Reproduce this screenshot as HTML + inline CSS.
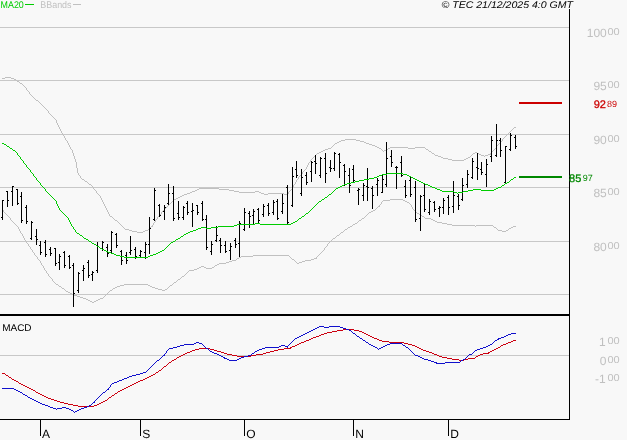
<!DOCTYPE html>
<html><head><meta charset="utf-8"><title>chart</title>
<style>
html,body{margin:0;padding:0;background:#f8f8f8;}
body{width:627px;height:440px;position:relative;overflow:hidden;font-family:"Liberation Sans",sans-serif;}
svg text{font-family:"Liberation Sans",sans-serif;}
.t{position:absolute;white-space:nowrap;line-height:1;transform-origin:0 0;}
.yl{position:absolute;white-space:nowrap;line-height:1;}
.yl span{vertical-align:top;display:inline-block;position:relative;}
</style></head><body>
<svg width="627" height="440" viewBox="0 0 627 440" style="position:absolute;left:0;top:0;will-change:transform" shape-rendering="crispEdges" text-rendering="geometricPrecision">
<rect x="0" y="27" width="569" height="1" fill="#c8c8c8"/>
<rect x="0" y="80" width="569" height="1" fill="#c8c8c8"/>
<rect x="0" y="134" width="569" height="1" fill="#c8c8c8"/>
<rect x="0" y="187" width="569" height="1" fill="#c8c8c8"/>
<rect x="0" y="241" width="569" height="1" fill="#c8c8c8"/>
<rect x="0" y="294" width="569" height="1" fill="#c8c8c8"/>
<rect x="0" y="355" width="569" height="1" fill="#c8c8c8"/>
<path d="M5 77h6v1h-6zM2 78h3v1h-3zM11 78h3v1h-3zM14 79h2v1h-2zM16 80h1v1h-1zM17 81h2v1h-2zM19 82h1v1h-1zM20 83h2v1h-2zM22 84h1v1h-1zM23 85h1v1h-1zM24 86h1v1h-1zM25 87h1v1h-1zM26 88h1v1h-1zM26 89h1v1h-1zM27 90h1v1h-1zM28 91h1v1h-1zM29 92h1v1h-1zM29 93h1v1h-1zM30 94h1v1h-1zM31 95h1v1h-1zM32 96h1v1h-1zM33 97h1v1h-1zM34 98h1v1h-1zM35 99h1v1h-1zM36 100h2v1h-2zM38 101h1v1h-1zM39 102h1v1h-1zM40 103h1v1h-1zM41 104h1v1h-1zM42 105h1v1h-1zM43 106h1v1h-1zM44 107h1v1h-1zM45 108h1v1h-1zM46 109h1v1h-1zM47 110h1v1h-1zM48 111h1v1h-1zM48 112h1v1h-1zM49 113h1v1h-1zM50 114h1v1h-1zM51 115h1v1h-1zM52 116h1v1h-1zM53 117h1v1h-1zM54 118h1v1h-1zM55 119h1v1h-1zM56 120h1v1h-1zM56 121h1v1h-1zM56 122h1v1h-1zM57 123h1v1h-1zM57 124h1v1h-1zM58 125h1v1h-1zM58 126h1v1h-1zM59 127h1v1h-1zM514 127h2v1h-2zM59 128h1v1h-1zM513 128h1v1h-1zM60 129h1v1h-1zM512 129h1v1h-1zM60 130h1v1h-1zM511 130h1v1h-1zM61 131h1v1h-1zM510 131h1v1h-1zM61 132h1v1h-1zM509 132h1v1h-1zM62 133h1v1h-1zM508 133h1v1h-1zM62 134h1v1h-1zM507 134h1v1h-1zM63 135h1v1h-1zM506 135h1v1h-1zM64 136h1v1h-1zM505 136h1v1h-1zM64 137h1v1h-1zM504 137h1v1h-1zM65 138h1v1h-1zM503 138h1v1h-1zM65 139h1v1h-1zM345 139h11v1h-11zM502 139h1v1h-1zM66 140h1v1h-1zM341 140h4v1h-4zM356 140h4v1h-4zM502 140h1v1h-1zM67 141h1v1h-1zM339 141h2v1h-2zM360 141h4v1h-4zM501 141h1v1h-1zM67 142h1v1h-1zM337 142h2v1h-2zM364 142h2v1h-2zM500 142h1v1h-1zM68 143h1v1h-1zM335 143h2v1h-2zM366 143h3v1h-3zM499 143h1v1h-1zM68 144h1v1h-1zM334 144h1v1h-1zM369 144h3v1h-3zM498 144h1v1h-1zM69 145h1v1h-1zM333 145h1v1h-1zM372 145h3v1h-3zM497 145h1v1h-1zM69 146h1v1h-1zM332 146h1v1h-1zM375 146h2v1h-2zM496 146h1v1h-1zM70 147h1v1h-1zM331 147h1v1h-1zM377 147h2v1h-2zM390 147h18v1h-18zM415 147h10v1h-10zM496 147h1v1h-1zM70 148h1v1h-1zM328 148h3v1h-3zM379 148h2v1h-2zM388 148h2v1h-2zM408 148h7v1h-7zM425 148h1v1h-1zM495 148h1v1h-1zM71 149h1v1h-1zM325 149h3v1h-3zM381 149h1v1h-1zM386 149h2v1h-2zM426 149h2v1h-2zM494 149h1v1h-1zM72 150h1v1h-1zM323 150h2v1h-2zM382 150h1v1h-1zM384 150h2v1h-2zM428 150h1v1h-1zM493 150h1v1h-1zM72 151h1v1h-1zM321 151h2v1h-2zM383 151h1v1h-1zM429 151h2v1h-2zM492 151h1v1h-1zM72 152h1v1h-1zM319 152h2v1h-2zM431 152h1v1h-1zM475 152h2v1h-2zM491 152h1v1h-1zM73 153h1v1h-1zM317 153h2v1h-2zM432 153h2v1h-2zM473 153h2v1h-2zM477 153h2v1h-2zM490 153h1v1h-1zM73 154h1v1h-1zM316 154h1v1h-1zM434 154h1v1h-1zM472 154h1v1h-1zM479 154h2v1h-2zM488 154h3v1h-3zM73 155h1v1h-1zM315 155h1v1h-1zM435 155h3v1h-3zM471 155h1v1h-1zM481 155h3v1h-3zM485 155h3v1h-3zM74 156h1v1h-1zM314 156h1v1h-1zM438 156h3v1h-3zM470 156h1v1h-1zM484 156h1v1h-1zM74 157h1v1h-1zM313 157h1v1h-1zM441 157h2v1h-2zM468 157h2v1h-2zM74 158h1v1h-1zM312 158h1v1h-1zM443 158h5v1h-5zM466 158h2v1h-2zM75 159h1v1h-1zM311 159h1v1h-1zM448 159h4v1h-4zM464 159h2v1h-2zM75 160h1v1h-1zM310 160h1v1h-1zM452 160h12v1h-12zM75 161h1v1h-1zM310 161h1v1h-1zM76 162h1v1h-1zM309 162h1v1h-1zM76 163h1v1h-1zM308 163h1v1h-1zM76 164h1v1h-1zM308 164h1v1h-1zM76 165h1v1h-1zM307 165h1v1h-1zM76 166h1v1h-1zM307 166h1v1h-1zM76 167h1v1h-1zM306 167h1v1h-1zM77 168h1v1h-1zM306 168h1v1h-1zM77 169h1v1h-1zM305 169h1v1h-1zM77 170h1v1h-1zM304 170h1v1h-1zM77 171h1v1h-1zM303 171h1v1h-1zM77 172h1v1h-1zM302 172h1v1h-1zM78 173h1v1h-1zM302 173h1v1h-1zM78 174h1v1h-1zM301 174h1v1h-1zM79 175h1v1h-1zM300 175h1v1h-1zM80 176h1v1h-1zM299 176h1v1h-1zM80 177h1v1h-1zM298 177h1v1h-1zM81 178h1v1h-1zM298 178h1v1h-1zM82 179h2v1h-2zM297 179h1v1h-1zM84 180h1v1h-1zM296 180h1v1h-1zM85 181h2v1h-2zM296 181h1v1h-1zM87 182h1v1h-1zM295 182h1v1h-1zM88 183h1v1h-1zM295 183h1v1h-1zM89 184h2v1h-2zM294 184h1v1h-1zM91 185h1v1h-1zM293 185h1v1h-1zM92 186h1v1h-1zM293 186h1v1h-1zM93 187h1v1h-1zM292 187h1v1h-1zM93 188h1v1h-1zM199 188h20v1h-20zM292 188h1v1h-1zM94 189h1v1h-1zM197 189h2v1h-2zM219 189h10v1h-10zM291 189h1v1h-1zM95 190h1v1h-1zM195 190h2v1h-2zM229 190h5v1h-5zM290 190h1v1h-1zM96 191h1v1h-1zM192 191h3v1h-3zM234 191h5v1h-5zM255 191h4v1h-4zM289 191h1v1h-1zM96 192h1v1h-1zM190 192h2v1h-2zM239 192h16v1h-16zM259 192h2v1h-2zM288 192h1v1h-1zM97 193h1v1h-1zM187 193h3v1h-3zM261 193h3v1h-3zM268 193h16v1h-16zM288 193h1v1h-1zM98 194h1v1h-1zM184 194h3v1h-3zM264 194h4v1h-4zM284 194h4v1h-4zM99 195h1v1h-1zM182 195h2v1h-2zM100 196h1v1h-1zM180 196h2v1h-2zM100 197h1v1h-1zM178 197h2v1h-2zM101 198h1v1h-1zM176 198h2v1h-2zM101 199h1v1h-1zM174 199h2v1h-2zM102 200h1v1h-1zM173 200h1v1h-1zM102 201h1v1h-1zM172 201h1v1h-1zM103 202h1v1h-1zM171 202h1v1h-1zM103 203h1v1h-1zM170 203h1v1h-1zM104 204h1v1h-1zM169 204h1v1h-1zM104 205h1v1h-1zM168 205h1v1h-1zM105 206h1v1h-1zM167 206h1v1h-1zM105 207h1v1h-1zM166 207h1v1h-1zM106 208h1v1h-1zM165 208h1v1h-1zM106 209h1v1h-1zM164 209h1v1h-1zM107 210h1v1h-1zM163 210h1v1h-1zM107 211h1v1h-1zM162 211h1v1h-1zM108 212h1v1h-1zM161 212h1v1h-1zM108 213h1v1h-1zM161 213h1v1h-1zM109 214h1v1h-1zM160 214h1v1h-1zM109 215h1v1h-1zM159 215h1v1h-1zM110 216h2v1h-2zM158 216h1v1h-1zM112 217h1v1h-1zM157 217h1v1h-1zM113 218h1v1h-1zM157 218h1v1h-1zM114 219h1v1h-1zM156 219h1v1h-1zM115 220h2v1h-2zM155 220h1v1h-1zM117 221h1v1h-1zM155 221h1v1h-1zM118 222h1v1h-1zM154 222h1v1h-1zM119 223h1v1h-1zM153 223h1v1h-1zM120 224h1v1h-1zM153 224h1v1h-1zM121 225h1v1h-1zM152 225h1v1h-1zM122 226h1v1h-1zM151 226h2v1h-2zM123 227h1v1h-1zM150 227h1v1h-1zM124 228h1v1h-1zM149 228h1v1h-1zM125 229h4v1h-4zM148 229h1v1h-1zM129 230h3v1h-3zM145 230h3v1h-3zM132 231h5v1h-5zM143 231h2v1h-2zM137 232h6v1h-6z" fill="#c0c0c0"/>
<path d="M390 199h13v1h-13zM383 200h7v1h-7zM403 200h2v1h-2zM382 201h1v1h-1zM405 201h2v1h-2zM381 202h1v1h-1zM407 202h2v1h-2zM381 203h1v1h-1zM409 203h1v1h-1zM380 204h1v1h-1zM410 204h1v1h-1zM379 205h1v1h-1zM411 205h1v1h-1zM378 206h2v1h-2zM411 206h1v1h-1zM377 207h1v1h-1zM412 207h1v1h-1zM376 208h1v1h-1zM412 208h1v1h-1zM375 209h1v1h-1zM413 209h1v1h-1zM3 210h1v1h-1zM373 210h2v1h-2zM414 210h1v1h-1zM3 211h1v1h-1zM371 211h2v1h-2zM415 211h1v1h-1zM4 212h1v1h-1zM369 212h2v1h-2zM416 212h1v1h-1zM5 213h1v1h-1zM368 213h1v1h-1zM417 213h2v1h-2zM6 214h1v1h-1zM367 214h1v1h-1zM419 214h2v1h-2zM7 215h1v1h-1zM366 215h1v1h-1zM421 215h1v1h-1zM8 216h1v1h-1zM365 216h1v1h-1zM422 216h2v1h-2zM9 217h1v1h-1zM364 217h1v1h-1zM424 217h1v1h-1zM10 218h1v1h-1zM362 218h2v1h-2zM425 218h6v1h-6zM10 219h1v1h-1zM361 219h1v1h-1zM431 219h2v1h-2zM11 220h1v1h-1zM359 220h2v1h-2zM433 220h2v1h-2zM12 221h1v1h-1zM358 221h1v1h-1zM435 221h2v1h-2zM13 222h1v1h-1zM357 222h1v1h-1zM437 222h5v1h-5zM14 223h1v1h-1zM355 223h2v1h-2zM442 223h5v1h-5zM15 224h1v1h-1zM353 224h2v1h-2zM447 224h5v1h-5zM16 225h1v1h-1zM352 225h1v1h-1zM452 225h23v1h-23zM476 225h17v1h-17zM17 226h1v1h-1zM350 226h2v1h-2zM475 226h1v1h-1zM493 226h1v1h-1zM513 226h3v1h-3zM18 227h1v1h-1zM348 227h2v1h-2zM494 227h2v1h-2zM511 227h2v1h-2zM18 228h1v1h-1zM347 228h1v1h-1zM496 228h1v1h-1zM509 228h2v1h-2zM19 229h1v1h-1zM345 229h2v1h-2zM497 229h1v1h-1zM508 229h1v1h-1zM19 230h1v1h-1zM344 230h1v1h-1zM498 230h4v1h-4zM506 230h2v1h-2zM20 231h1v1h-1zM343 231h1v1h-1zM502 231h4v1h-4zM20 232h1v1h-1zM341 232h2v1h-2zM21 233h1v1h-1zM340 233h1v1h-1zM22 234h1v1h-1zM339 234h1v1h-1zM22 235h1v1h-1zM337 235h2v1h-2zM23 236h1v1h-1zM336 236h1v1h-1zM23 237h1v1h-1zM335 237h1v1h-1zM24 238h1v1h-1zM333 238h2v1h-2zM24 239h1v1h-1zM332 239h1v1h-1zM25 240h1v1h-1zM331 240h1v1h-1zM26 241h1v1h-1zM330 241h1v1h-1zM26 242h1v1h-1zM329 242h1v1h-1zM27 243h1v1h-1zM328 243h1v1h-1zM28 244h1v1h-1zM327 244h1v1h-1zM28 245h1v1h-1zM327 245h1v1h-1zM29 246h1v1h-1zM326 246h1v1h-1zM30 247h1v1h-1zM325 247h1v1h-1zM30 248h1v1h-1zM324 248h1v1h-1zM31 249h1v1h-1zM324 249h1v1h-1zM32 250h1v1h-1zM323 250h1v1h-1zM32 251h1v1h-1zM322 251h1v1h-1zM33 252h1v1h-1zM321 252h1v1h-1zM34 253h1v1h-1zM320 253h1v1h-1zM34 254h1v1h-1zM319 254h1v1h-1zM35 255h1v1h-1zM253 255h36v1h-36zM318 255h1v1h-1zM36 256h1v1h-1zM241 256h12v1h-12zM289 256h1v1h-1zM317 256h1v1h-1zM37 257h1v1h-1zM239 257h2v1h-2zM290 257h1v1h-1zM316 257h1v1h-1zM37 258h1v1h-1zM237 258h2v1h-2zM291 258h1v1h-1zM314 258h3v1h-3zM38 259h1v1h-1zM236 259h1v1h-1zM292 259h2v1h-2zM311 259h3v1h-3zM39 260h1v1h-1zM232 260h4v1h-4zM294 260h1v1h-1zM305 260h6v1h-6zM40 261h1v1h-1zM229 261h3v1h-3zM295 261h1v1h-1zM302 261h3v1h-3zM40 262h1v1h-1zM226 262h3v1h-3zM296 262h1v1h-1zM299 262h3v1h-3zM41 263h1v1h-1zM219 263h7v1h-7zM297 263h2v1h-2zM41 264h1v1h-1zM217 264h2v1h-2zM42 265h1v1h-1zM215 265h2v1h-2zM43 266h1v1h-1zM201 266h3v1h-3zM214 266h1v1h-1zM43 267h1v1h-1zM199 267h2v1h-2zM204 267h2v1h-2zM212 267h2v1h-2zM44 268h1v1h-1zM197 268h2v1h-2zM206 268h6v1h-6zM44 269h1v1h-1zM194 269h3v1h-3zM45 270h1v1h-1zM189 270h5v1h-5zM46 271h1v1h-1zM188 271h1v1h-1zM46 272h1v1h-1zM187 272h1v1h-1zM47 273h1v1h-1zM186 273h1v1h-1zM48 274h1v1h-1zM185 274h1v1h-1zM48 275h1v1h-1zM184 275h1v1h-1zM49 276h1v1h-1zM182 276h2v1h-2zM50 277h1v1h-1zM181 277h1v1h-1zM51 278h1v1h-1zM180 278h1v1h-1zM52 279h1v1h-1zM178 279h2v1h-2zM52 280h1v1h-1zM177 280h1v1h-1zM53 281h1v1h-1zM176 281h1v1h-1zM54 282h1v1h-1zM174 282h2v1h-2zM55 283h1v1h-1zM173 283h1v1h-1zM56 284h2v1h-2zM124 284h24v1h-24zM172 284h1v1h-1zM58 285h1v1h-1zM120 285h4v1h-4zM148 285h2v1h-2zM170 285h2v1h-2zM59 286h2v1h-2zM117 286h3v1h-3zM150 286h2v1h-2zM169 286h1v1h-1zM61 287h1v1h-1zM115 287h2v1h-2zM152 287h3v1h-3zM168 287h1v1h-1zM62 288h2v1h-2zM113 288h2v1h-2zM155 288h3v1h-3zM167 288h1v1h-1zM64 289h1v1h-1zM112 289h1v1h-1zM158 289h4v1h-4zM165 289h2v1h-2zM65 290h1v1h-1zM110 290h2v1h-2zM162 290h3v1h-3zM66 291h2v1h-2zM109 291h1v1h-1zM68 292h2v1h-2zM108 292h1v1h-1zM70 293h2v1h-2zM107 293h1v1h-1zM72 294h2v1h-2zM106 294h1v1h-1zM74 295h3v1h-3zM105 295h1v1h-1zM77 296h3v1h-3zM104 296h1v1h-1zM80 297h3v1h-3zM103 297h1v1h-1zM83 298h3v1h-3zM100 298h3v1h-3zM86 299h2v1h-2zM98 299h2v1h-2zM88 300h2v1h-2zM96 300h2v1h-2zM90 301h2v1h-2zM94 301h2v1h-2zM92 302h2v1h-2z" fill="#c0c0c0"/>
<path d="M2 200h1v20h-1zM1 217h1v1h-1zM3 200h1v1h-1zM7 191h1v16h-1zM6 191h1v1h-1zM8 200h1v1h-1zM12 186h1v20h-1zM11 191h1v1h-1zM13 186h1v1h-1zM17 189h1v16h-1zM16 189h1v1h-1zM18 203h1v1h-1zM21 192h1v31h-1zM20 196h1v1h-1zM22 220h1v1h-1zM26 205h1v19h-1zM25 207h1v1h-1zM27 221h1v1h-1zM31 221h1v19h-1zM30 238h1v1h-1zM32 222h1v1h-1zM36 229h1v16h-1zM35 236h1v1h-1zM37 239h1v1h-1zM40 241h1v14h-1zM39 245h1v1h-1zM41 252h1v1h-1zM45 240h1v17h-1zM44 242h1v1h-1zM46 254h1v1h-1zM50 247h1v9h-1zM49 249h1v1h-1zM51 253h1v1h-1zM55 248h1v18h-1zM54 248h1v1h-1zM56 263h1v1h-1zM59 254h1v16h-1zM58 262h1v1h-1zM60 256h1v1h-1zM64 251h1v17h-1zM63 252h1v1h-1zM65 265h1v1h-1zM69 255h1v14h-1zM68 256h1v1h-1zM70 267h1v1h-1zM73 263h1v44h-1zM72 265h1v1h-1zM74 293h1v1h-1zM78 272h1v21h-1zM77 290h1v1h-1zM79 273h1v1h-1zM83 265h1v16h-1zM82 270h1v1h-1zM84 268h1v1h-1zM88 260h1v18h-1zM87 262h1v1h-1zM89 275h1v1h-1zM92 271h1v10h-1zM91 274h1v1h-1zM93 272h1v1h-1zM97 242h1v31h-1zM96 270h1v1h-1zM98 246h1v1h-1zM102 241h1v10h-1zM101 248h1v1h-1zM103 242h1v1h-1zM107 244h1v13h-1zM106 247h1v1h-1zM108 253h1v1h-1zM111 231h1v22h-1zM110 250h1v1h-1zM112 232h1v1h-1zM116 233h1v15h-1zM115 234h1v1h-1zM117 245h1v1h-1zM121 250h1v15h-1zM120 251h1v1h-1zM122 260h1v1h-1zM126 252h1v12h-1zM125 255h1v1h-1zM127 260h1v1h-1zM130 236h1v19h-1zM129 252h1v1h-1zM131 250h1v1h-1zM135 247h1v12h-1zM134 249h1v1h-1zM136 256h1v1h-1zM140 250h1v8h-1zM139 255h1v1h-1zM141 251h1v1h-1zM145 242h1v17h-1zM144 252h1v1h-1zM146 244h1v1h-1zM149 217h1v37h-1zM148 244h1v1h-1zM150 228h1v1h-1zM154 188h1v33h-1zM153 219h1v1h-1zM155 190h1v1h-1zM159 204h1v13h-1zM158 205h1v1h-1zM160 215h1v1h-1zM164 205h1v15h-1zM163 211h1v1h-1zM165 207h1v1h-1zM168 184h1v21h-1zM167 203h1v1h-1zM169 193h1v1h-1zM173 186h1v35h-1zM172 193h1v1h-1zM174 218h1v1h-1zM178 201h1v19h-1zM177 213h1v1h-1zM179 217h1v1h-1zM183 206h1v14h-1zM182 217h1v1h-1zM184 207h1v1h-1zM187 201h1v14h-1zM186 203h1v1h-1zM188 212h1v1h-1zM192 203h1v24h-1zM191 211h1v1h-1zM193 210h1v1h-1zM197 205h1v10h-1zM196 205h1v1h-1zM198 212h1v1h-1zM202 201h1v20h-1zM201 203h1v1h-1zM203 219h1v1h-1zM206 215h1v35h-1zM205 219h1v1h-1zM207 247h1v1h-1zM211 241h1v14h-1zM210 251h1v1h-1zM212 244h1v1h-1zM216 226h1v16h-1zM215 240h1v1h-1zM217 235h1v1h-1zM220 238h1v15h-1zM219 240h1v1h-1zM221 245h1v1h-1zM225 241h1v12h-1zM224 245h1v1h-1zM226 251h1v1h-1zM230 243h1v17h-1zM229 250h1v1h-1zM231 246h1v1h-1zM235 238h1v10h-1zM234 240h1v1h-1zM236 244h1v1h-1zM239 221h1v36h-1zM238 243h1v1h-1zM240 223h1v1h-1zM244 208h1v23h-1zM243 229h1v1h-1zM245 212h1v1h-1zM249 211h1v17h-1zM248 213h1v1h-1zM250 216h1v1h-1zM253 209h1v16h-1zM252 215h1v1h-1zM254 211h1v1h-1zM258 208h1v15h-1zM257 209h1v1h-1zM259 220h1v1h-1zM263 204h1v13h-1zM262 214h1v1h-1zM264 206h1v1h-1zM268 203h1v13h-1zM267 205h1v1h-1zM269 213h1v1h-1zM273 200h1v15h-1zM272 212h1v1h-1zM274 202h1v1h-1zM277 199h1v21h-1zM276 201h1v1h-1zM278 218h1v1h-1zM282 194h1v20h-1zM281 211h1v1h-1zM283 203h1v1h-1zM287 185h1v40h-1zM286 187h1v1h-1zM288 222h1v1h-1zM292 167h1v40h-1zM291 205h1v1h-1zM293 176h1v1h-1zM296 161h1v17h-1zM295 169h1v1h-1zM297 175h1v1h-1zM301 169h1v27h-1zM300 193h1v1h-1zM302 177h1v1h-1zM306 172h1v13h-1zM305 175h1v1h-1zM307 182h1v1h-1zM311 161h1v21h-1zM310 171h1v1h-1zM312 162h1v1h-1zM315 155h1v19h-1zM314 161h1v1h-1zM316 163h1v1h-1zM320 157h1v21h-1zM319 175h1v1h-1zM321 158h1v1h-1zM325 153h1v30h-1zM324 158h1v1h-1zM326 173h1v1h-1zM330 160h1v12h-1zM329 167h1v1h-1zM331 168h1v1h-1zM334 152h1v19h-1zM333 168h1v1h-1zM335 153h1v1h-1zM339 153h1v25h-1zM338 154h1v1h-1zM340 162h1v1h-1zM344 164h1v22h-1zM343 165h1v1h-1zM345 171h1v1h-1zM349 168h1v25h-1zM348 175h1v1h-1zM350 185h1v1h-1zM353 165h1v18h-1zM352 169h1v1h-1zM354 180h1v1h-1zM358 188h1v17h-1zM357 190h1v1h-1zM359 189h1v1h-1zM363 183h1v18h-1zM362 195h1v1h-1zM364 185h1v1h-1zM367 168h1v33h-1zM366 186h1v1h-1zM368 187h1v1h-1zM372 186h1v23h-1zM371 188h1v1h-1zM373 195h1v1h-1zM377 178h1v18h-1zM376 184h1v1h-1zM378 180h1v1h-1zM382 174h1v19h-1zM381 192h1v1h-1zM383 179h1v1h-1zM386 142h1v45h-1zM385 184h1v1h-1zM387 158h1v1h-1zM391 150h1v17h-1zM390 156h1v1h-1zM392 162h1v1h-1zM396 166h1v23h-1zM395 167h1v1h-1zM397 167h1v1h-1zM401 156h1v21h-1zM400 162h1v1h-1zM402 175h1v1h-1zM405 180h1v18h-1zM404 186h1v1h-1zM406 195h1v1h-1zM410 177h1v20h-1zM409 180h1v1h-1zM411 194h1v1h-1zM415 181h1v41h-1zM414 187h1v1h-1zM416 219h1v1h-1zM420 195h1v36h-1zM419 218h1v1h-1zM421 196h1v1h-1zM424 183h1v29h-1zM423 195h1v1h-1zM425 209h1v1h-1zM429 199h1v16h-1zM428 212h1v1h-1zM430 201h1v1h-1zM434 201h1v11h-1zM433 202h1v1h-1zM435 209h1v1h-1zM439 206h1v11h-1zM438 208h1v1h-1zM440 207h1v1h-1zM443 198h1v16h-1zM442 207h1v1h-1zM444 200h1v1h-1zM448 195h1v20h-1zM447 197h1v1h-1zM449 207h1v1h-1zM453 181h1v32h-1zM452 206h1v1h-1zM454 195h1v1h-1zM458 194h1v16h-1zM457 196h1v1h-1zM459 205h1v1h-1zM462 178h1v23h-1zM461 199h1v1h-1zM463 185h1v1h-1zM467 170h1v18h-1zM466 184h1v1h-1zM468 174h1v1h-1zM472 158h1v21h-1zM471 177h1v1h-1zM473 161h1v1h-1zM477 153h1v27h-1zM476 167h1v1h-1zM478 168h1v1h-1zM481 162h1v13h-1zM480 169h1v1h-1zM482 172h1v1h-1zM486 159h1v28h-1zM485 174h1v1h-1zM487 164h1v1h-1zM491 136h1v26h-1zM490 156h1v1h-1zM492 140h1v1h-1zM496 124h1v33h-1zM495 155h1v1h-1zM497 140h1v1h-1zM500 138h1v19h-1zM499 140h1v1h-1zM501 150h1v1h-1zM505 146h1v38h-1zM504 182h1v1h-1zM506 146h1v1h-1zM510 133h1v18h-1zM509 149h1v1h-1zM511 135h1v1h-1zM515 135h1v14h-1zM514 137h1v1h-1zM516 146h1v1h-1z" fill="#000"/>
<path d="M2 143h2v1h-2zM4 144h2v1h-2zM6 145h1v1h-1zM7 146h2v1h-2zM9 147h1v1h-1zM10 148h2v1h-2zM12 149h1v1h-1zM13 150h2v1h-2zM15 151h1v1h-1zM16 152h1v1h-1zM17 153h1v1h-1zM17 154h1v1h-1zM18 155h1v1h-1zM19 156h1v1h-1zM20 157h1v1h-1zM20 158h1v1h-1zM21 159h1v1h-1zM22 160h1v1h-1zM23 161h1v1h-1zM23 162h1v1h-1zM24 163h1v1h-1zM25 164h1v1h-1zM26 165h1v1h-1zM26 166h1v1h-1zM27 167h1v1h-1zM28 168h1v1h-1zM29 169h1v1h-1zM30 170h1v1h-1zM30 171h1v1h-1zM31 172h1v1h-1zM32 173h1v1h-1zM387 173h16v1h-16zM33 174h1v1h-1zM382 174h5v1h-5zM403 174h4v1h-4zM33 175h1v1h-1zM379 175h3v1h-3zM407 175h2v1h-2zM34 176h1v1h-1zM377 176h2v1h-2zM409 176h2v1h-2zM35 177h1v1h-1zM374 177h3v1h-3zM411 177h2v1h-2zM514 177h2v1h-2zM36 178h1v1h-1zM369 178h5v1h-5zM413 178h2v1h-2zM513 178h1v1h-1zM36 179h1v1h-1zM364 179h5v1h-5zM415 179h2v1h-2zM511 179h2v1h-2zM37 180h1v1h-1zM359 180h5v1h-5zM417 180h2v1h-2zM510 180h1v1h-1zM38 181h1v1h-1zM355 181h4v1h-4zM419 181h2v1h-2zM509 181h1v1h-1zM39 182h1v1h-1zM351 182h4v1h-4zM421 182h2v1h-2zM507 182h2v1h-2zM40 183h1v1h-1zM347 183h4v1h-4zM423 183h2v1h-2zM505 183h2v1h-2zM40 184h1v1h-1zM344 184h3v1h-3zM425 184h3v1h-3zM504 184h1v1h-1zM41 185h1v1h-1zM342 185h2v1h-2zM428 185h2v1h-2zM502 185h2v1h-2zM42 186h1v1h-1zM340 186h2v1h-2zM430 186h2v1h-2zM501 186h1v1h-1zM43 187h1v1h-1zM338 187h2v1h-2zM432 187h3v1h-3zM498 187h3v1h-3zM44 188h1v1h-1zM336 188h2v1h-2zM435 188h2v1h-2zM496 188h2v1h-2zM45 189h1v1h-1zM335 189h1v1h-1zM437 189h3v1h-3zM473 189h8v1h-8zM494 189h2v1h-2zM45 190h1v1h-1zM334 190h1v1h-1zM440 190h2v1h-2zM468 190h5v1h-5zM481 190h13v1h-13zM46 191h1v1h-1zM333 191h1v1h-1zM442 191h12v1h-12zM463 191h5v1h-5zM47 192h1v1h-1zM332 192h1v1h-1zM454 192h3v1h-3zM458 192h5v1h-5zM48 193h1v1h-1zM331 193h1v1h-1zM457 193h1v1h-1zM49 194h1v1h-1zM329 194h2v1h-2zM50 195h1v1h-1zM328 195h1v1h-1zM51 196h1v1h-1zM327 196h1v1h-1zM52 197h1v1h-1zM325 197h2v1h-2zM53 198h1v1h-1zM324 198h1v1h-1zM54 199h1v1h-1zM322 199h2v1h-2zM55 200h1v1h-1zM321 200h1v1h-1zM56 201h1v1h-1zM319 201h2v1h-2zM56 202h1v1h-1zM318 202h1v1h-1zM56 203h1v1h-1zM317 203h1v1h-1zM57 204h1v1h-1zM316 204h1v1h-1zM57 205h1v1h-1zM315 205h1v1h-1zM58 206h1v1h-1zM314 206h1v1h-1zM58 207h1v1h-1zM313 207h1v1h-1zM59 208h1v1h-1zM312 208h1v1h-1zM59 209h1v1h-1zM311 209h1v1h-1zM60 210h1v1h-1zM310 210h1v1h-1zM61 211h1v1h-1zM309 211h1v1h-1zM62 212h1v1h-1zM308 212h1v1h-1zM63 213h1v1h-1zM306 213h2v1h-2zM64 214h1v1h-1zM305 214h1v1h-1zM65 215h1v1h-1zM304 215h1v1h-1zM66 216h1v1h-1zM302 216h2v1h-2zM67 217h1v1h-1zM301 217h1v1h-1zM68 218h1v1h-1zM299 218h2v1h-2zM68 219h1v1h-1zM298 219h1v1h-1zM69 220h1v1h-1zM297 220h1v1h-1zM69 221h1v1h-1zM295 221h2v1h-2zM70 222h1v1h-1zM293 222h2v1h-2zM70 223h1v1h-1zM255 223h5v1h-5zM291 223h2v1h-2zM71 224h1v1h-1zM237 224h18v1h-18zM260 224h31v1h-31zM71 225h1v1h-1zM234 225h3v1h-3zM72 226h1v1h-1zM218 226h16v1h-16zM73 227h1v1h-1zM201 227h5v1h-5zM211 227h7v1h-7zM73 228h1v1h-1zM198 228h3v1h-3zM206 228h5v1h-5zM74 229h1v1h-1zM196 229h2v1h-2zM75 230h1v1h-1zM193 230h3v1h-3zM75 231h1v1h-1zM190 231h3v1h-3zM76 232h1v1h-1zM188 232h2v1h-2zM77 233h2v1h-2zM186 233h2v1h-2zM79 234h1v1h-1zM184 234h2v1h-2zM80 235h2v1h-2zM183 235h1v1h-1zM82 236h1v1h-1zM181 236h2v1h-2zM83 237h1v1h-1zM180 237h1v1h-1zM84 238h2v1h-2zM178 238h2v1h-2zM86 239h2v1h-2zM176 239h2v1h-2zM88 240h1v1h-1zM175 240h1v1h-1zM89 241h2v1h-2zM173 241h2v1h-2zM91 242h1v1h-1zM171 242h2v1h-2zM92 243h2v1h-2zM170 243h1v1h-1zM94 244h2v1h-2zM169 244h1v1h-1zM96 245h1v1h-1zM168 245h1v1h-1zM97 246h2v1h-2zM167 246h1v1h-1zM99 247h1v1h-1zM166 247h1v1h-1zM100 248h2v1h-2zM165 248h1v1h-1zM102 249h2v1h-2zM164 249h1v1h-1zM104 250h2v1h-2zM162 250h2v1h-2zM106 251h2v1h-2zM160 251h2v1h-2zM108 252h3v1h-3zM158 252h2v1h-2zM111 253h3v1h-3zM156 253h2v1h-2zM114 254h2v1h-2zM153 254h3v1h-3zM116 255h4v1h-4zM150 255h3v1h-3zM120 256h4v1h-4zM148 256h2v1h-2zM124 257h24v1h-24z" fill="#00cc00"/>
<path d="M343 329h11v1h-11zM337 330h6v1h-6zM354 330h5v1h-5zM332 331h5v1h-5zM359 331h3v1h-3zM327 332h5v1h-5zM362 332h2v1h-2zM324 333h3v1h-3zM364 333h2v1h-2zM321 334h3v1h-3zM366 334h2v1h-2zM319 335h2v1h-2zM368 335h2v1h-2zM316 336h3v1h-3zM370 336h2v1h-2zM313 337h3v1h-3zM372 337h2v1h-2zM311 338h2v1h-2zM374 338h3v1h-3zM309 339h2v1h-2zM377 339h2v1h-2zM306 340h3v1h-3zM379 340h3v1h-3zM513 340h3v1h-3zM304 341h2v1h-2zM382 341h7v1h-7zM511 341h2v1h-2zM301 342h3v1h-3zM389 342h15v1h-15zM508 342h3v1h-3zM299 343h2v1h-2zM404 343h4v1h-4zM506 343h2v1h-2zM297 344h2v1h-2zM408 344h4v1h-4zM503 344h3v1h-3zM295 345h2v1h-2zM412 345h3v1h-3zM501 345h2v1h-2zM292 346h3v1h-3zM415 346h2v1h-2zM500 346h1v1h-1zM290 347h2v1h-2zM417 347h2v1h-2zM498 347h2v1h-2zM199 348h11v1h-11zM284 348h7v1h-7zM419 348h2v1h-2zM496 348h2v1h-2zM195 349h4v1h-4zM210 349h4v1h-4zM278 349h6v1h-6zM421 349h2v1h-2zM494 349h2v1h-2zM192 350h3v1h-3zM214 350h3v1h-3zM274 350h4v1h-4zM423 350h3v1h-3zM492 350h2v1h-2zM190 351h2v1h-2zM217 351h4v1h-4zM270 351h4v1h-4zM426 351h3v1h-3zM490 351h2v1h-2zM187 352h3v1h-3zM221 352h3v1h-3zM266 352h4v1h-4zM429 352h3v1h-3zM488 352h2v1h-2zM185 353h2v1h-2zM224 353h3v1h-3zM263 353h3v1h-3zM432 353h2v1h-2zM483 353h6v1h-6zM183 354h2v1h-2zM227 354h5v1h-5zM256 354h7v1h-7zM434 354h3v1h-3zM480 354h3v1h-3zM181 355h2v1h-2zM232 355h5v1h-5zM250 355h6v1h-6zM437 355h2v1h-2zM478 355h2v1h-2zM179 356h2v1h-2zM237 356h14v1h-14zM439 356h3v1h-3zM476 356h2v1h-2zM177 357h2v1h-2zM442 357h5v1h-5zM475 357h1v1h-1zM176 358h1v1h-1zM447 358h5v1h-5zM468 358h7v1h-7zM174 359h2v1h-2zM452 359h7v1h-7zM464 359h4v1h-4zM172 360h2v1h-2zM459 360h5v1h-5zM171 361h1v1h-1zM169 362h2v1h-2zM168 363h1v1h-1zM167 364h1v1h-1zM166 365h1v1h-1zM164 366h2v1h-2zM163 367h1v1h-1zM162 368h1v1h-1zM161 369h1v1h-1zM159 370h2v1h-2zM158 371h1v1h-1zM156 372h2v1h-2zM2 373h3v1h-3zM155 373h1v1h-1zM5 374h1v1h-1zM153 374h2v1h-2zM6 375h2v1h-2zM151 375h2v1h-2zM8 376h1v1h-1zM149 376h2v1h-2zM9 377h2v1h-2zM147 377h2v1h-2zM11 378h1v1h-1zM145 378h2v1h-2zM12 379h2v1h-2zM143 379h2v1h-2zM14 380h2v1h-2zM140 380h3v1h-3zM16 381h2v1h-2zM138 381h2v1h-2zM18 382h1v1h-1zM136 382h2v1h-2zM19 383h2v1h-2zM134 383h2v1h-2zM21 384h2v1h-2zM132 384h2v1h-2zM23 385h2v1h-2zM130 385h2v1h-2zM25 386h2v1h-2zM128 386h2v1h-2zM27 387h2v1h-2zM126 387h2v1h-2zM29 388h2v1h-2zM124 388h2v1h-2zM31 389h2v1h-2zM122 389h2v1h-2zM33 390h2v1h-2zM120 390h2v1h-2zM35 391h1v1h-1zM118 391h2v1h-2zM36 392h2v1h-2zM117 392h1v1h-1zM38 393h2v1h-2zM115 393h2v1h-2zM40 394h2v1h-2zM114 394h1v1h-1zM42 395h2v1h-2zM112 395h2v1h-2zM44 396h2v1h-2zM111 396h1v1h-1zM46 397h2v1h-2zM109 397h2v1h-2zM48 398h3v1h-3zM108 398h1v1h-1zM51 399h3v1h-3zM107 399h1v1h-1zM54 400h3v1h-3zM105 400h2v1h-2zM57 401h3v1h-3zM103 401h2v1h-2zM60 402h4v1h-4zM101 402h2v1h-2zM64 403h4v1h-4zM99 403h2v1h-2zM68 404h5v1h-5zM97 404h2v1h-2zM73 405h5v1h-5zM94 405h3v1h-3zM78 406h16v1h-16z" fill="#cc0010"/>
<path d="M319 326h5v1h-5zM329 326h11v1h-11zM317 327h2v1h-2zM324 327h5v1h-5zM340 327h3v1h-3zM315 328h2v1h-2zM343 328h3v1h-3zM313 329h2v1h-2zM346 329h3v1h-3zM311 330h2v1h-2zM349 330h2v1h-2zM309 331h2v1h-2zM351 331h1v1h-1zM307 332h2v1h-2zM352 332h1v1h-1zM305 333h2v1h-2zM353 333h2v1h-2zM511 333h5v1h-5zM303 334h2v1h-2zM355 334h1v1h-1zM508 334h3v1h-3zM301 335h2v1h-2zM356 335h1v1h-1zM506 335h2v1h-2zM299 336h2v1h-2zM357 336h2v1h-2zM504 336h2v1h-2zM297 337h2v1h-2zM359 337h1v1h-1zM501 337h3v1h-3zM295 338h2v1h-2zM360 338h2v1h-2zM498 338h3v1h-3zM294 339h1v1h-1zM362 339h1v1h-1zM497 339h2v1h-2zM293 340h1v1h-1zM363 340h2v1h-2zM495 340h2v1h-2zM292 341h1v1h-1zM365 341h1v1h-1zM494 341h1v1h-1zM196 342h3v1h-3zM291 342h1v1h-1zM366 342h2v1h-2zM493 342h1v1h-1zM194 343h2v1h-2zM199 343h3v1h-3zM290 343h1v1h-1zM368 343h1v1h-1zM390 343h12v1h-12zM492 343h1v1h-1zM184 344h10v1h-10zM202 344h1v1h-1zM289 344h1v1h-1zM369 344h2v1h-2zM387 344h3v1h-3zM402 344h1v1h-1zM490 344h2v1h-2zM180 345h4v1h-4zM203 345h1v1h-1zM281 345h4v1h-4zM288 345h1v1h-1zM371 345h2v1h-2zM385 345h2v1h-2zM403 345h2v1h-2zM488 345h2v1h-2zM177 346h3v1h-3zM204 346h1v1h-1zM279 346h2v1h-2zM285 346h3v1h-3zM373 346h2v1h-2zM383 346h2v1h-2zM405 346h1v1h-1zM486 346h2v1h-2zM173 347h4v1h-4zM205 347h1v1h-1zM265 347h14v1h-14zM287 347h1v1h-1zM375 347h2v1h-2zM381 347h2v1h-2zM406 347h2v1h-2zM483 347h3v1h-3zM169 348h4v1h-4zM206 348h2v1h-2zM262 348h3v1h-3zM377 348h1v1h-1zM379 348h2v1h-2zM408 348h1v1h-1zM480 348h3v1h-3zM168 349h1v1h-1zM208 349h1v1h-1zM259 349h3v1h-3zM378 349h1v1h-1zM409 349h1v1h-1zM477 349h3v1h-3zM167 350h1v1h-1zM209 350h1v1h-1zM257 350h2v1h-2zM410 350h1v1h-1zM475 350h2v1h-2zM166 351h1v1h-1zM210 351h2v1h-2zM255 351h2v1h-2zM411 351h1v1h-1zM474 351h1v1h-1zM166 352h1v1h-1zM212 352h2v1h-2zM254 352h1v1h-1zM412 352h1v1h-1zM473 352h1v1h-1zM165 353h1v1h-1zM214 353h3v1h-3zM252 353h2v1h-2zM413 353h1v1h-1zM472 353h1v1h-1zM164 354h1v1h-1zM217 354h2v1h-2zM251 354h1v1h-1zM414 354h1v1h-1zM469 354h3v1h-3zM163 355h2v1h-2zM219 355h2v1h-2zM248 355h3v1h-3zM415 355h3v1h-3zM468 355h1v1h-1zM162 356h1v1h-1zM221 356h2v1h-2zM244 356h4v1h-4zM418 356h2v1h-2zM467 356h1v1h-1zM161 357h1v1h-1zM223 357h2v1h-2zM241 357h3v1h-3zM420 357h2v1h-2zM466 357h1v1h-1zM160 358h1v1h-1zM224 358h3v1h-3zM239 358h2v1h-2zM422 358h2v1h-2zM465 358h1v1h-1zM159 359h1v1h-1zM227 359h2v1h-2zM237 359h2v1h-2zM424 359h4v1h-4zM463 359h2v1h-2zM157 360h2v1h-2zM229 360h8v1h-8zM428 360h3v1h-3zM461 360h2v1h-2zM156 361h1v1h-1zM431 361h3v1h-3zM460 361h1v1h-1zM155 362h1v1h-1zM434 362h3v1h-3zM445 362h15v1h-15zM154 363h1v1h-1zM436 363h9v1h-9zM153 364h1v1h-1zM152 365h1v1h-1zM151 366h1v1h-1zM150 367h1v1h-1zM149 368h1v1h-1zM148 369h1v1h-1zM147 370h1v1h-1zM146 371h1v1h-1zM143 372h3v1h-3zM140 373h3v1h-3zM136 374h4v1h-4zM132 375h4v1h-4zM129 376h3v1h-3zM127 377h2v1h-2zM124 378h3v1h-3zM122 379h2v1h-2zM119 380h3v1h-3zM117 381h2v1h-2zM114 382h3v1h-3zM112 383h2v1h-2zM111 384h1v1h-1zM110 385h1v1h-1zM110 386h1v1h-1zM109 387h1v1h-1zM2 388h12v1h-12zM108 388h1v1h-1zM14 389h2v1h-2zM107 389h2v1h-2zM16 390h2v1h-2zM106 390h1v1h-1zM18 391h2v1h-2zM105 391h1v1h-1zM20 392h2v1h-2zM103 392h2v1h-2zM22 393h1v1h-1zM102 393h1v1h-1zM23 394h2v1h-2zM101 394h1v1h-1zM25 395h2v1h-2zM100 395h1v1h-1zM27 396h1v1h-1zM99 396h1v1h-1zM28 397h2v1h-2zM98 397h1v1h-1zM30 398h2v1h-2zM97 398h1v1h-1zM32 399h2v1h-2zM96 399h1v1h-1zM34 400h2v1h-2zM95 400h1v1h-1zM36 401h2v1h-2zM94 401h1v1h-1zM38 402h2v1h-2zM93 402h2v1h-2zM40 403h2v1h-2zM92 403h1v1h-1zM42 404h3v1h-3zM91 404h1v1h-1zM45 405h3v1h-3zM89 405h2v1h-2zM48 406h2v1h-2zM87 406h2v1h-2zM50 407h3v1h-3zM62 407h4v1h-4zM84 407h3v1h-3zM53 408h3v1h-3zM57 408h5v1h-5zM66 408h3v1h-3zM81 408h3v1h-3zM56 409h1v1h-1zM69 409h2v1h-2zM79 409h2v1h-2zM71 410h2v1h-2zM77 410h2v1h-2zM73 411h1v1h-1zM75 411h2v1h-2zM74 412h1v1h-1z" fill="#1010cc"/>
<rect x="519" y="102" width="43" height="2" fill="#cc0000"/>
<rect x="519" y="176" width="43" height="2" fill="#008800"/>
<rect x="25" y="4" width="9" height="1" fill="#00cc00"/>
<rect x="73" y="4" width="8" height="1" fill="#c0c0c0"/>
<rect x="0" y="314" width="570" height="2" fill="#000"/>
<rect x="569" y="9" width="1" height="411" fill="#000"/>
<rect x="0" y="419" width="570" height="1" fill="#000"/>
<rect x="40" y="419" width="1" height="17" fill="#000"/>
<rect x="140" y="419" width="1" height="17" fill="#000"/>
<rect x="244" y="419" width="1" height="17" fill="#000"/>
<rect x="353" y="419" width="1" height="17" fill="#000"/>
<rect x="448" y="419" width="1" height="17" fill="#000"/>
<text x="606.8" y="37" font-size="12" fill="#c0c0c0" text-anchor="end">100</text>
<text x="619.7" y="35" font-size="10" fill="#c0c0c0" text-anchor="end" textLength="12.2" lengthAdjust="spacingAndGlyphs">00</text>
<text x="606.8" y="90" font-size="12" fill="#c0c0c0" text-anchor="end">95</text>
<text x="619.7" y="88" font-size="10" fill="#c0c0c0" text-anchor="end" textLength="12.2" lengthAdjust="spacingAndGlyphs">00</text>
<text x="606.8" y="144" font-size="12" fill="#c0c0c0" text-anchor="end">90</text>
<text x="619.7" y="142" font-size="10" fill="#c0c0c0" text-anchor="end" textLength="12.2" lengthAdjust="spacingAndGlyphs">00</text>
<text x="606.8" y="197" font-size="12" fill="#c0c0c0" text-anchor="end">85</text>
<text x="619.7" y="195" font-size="10" fill="#c0c0c0" text-anchor="end" textLength="12.2" lengthAdjust="spacingAndGlyphs">00</text>
<text x="606.8" y="251" font-size="12" fill="#c0c0c0" text-anchor="end">80</text>
<text x="619.7" y="249" font-size="10" fill="#c0c0c0" text-anchor="end" textLength="12.2" lengthAdjust="spacingAndGlyphs">00</text>
<text x="605.6" y="346" font-size="12" fill="#c0c0c0" text-anchor="end">1</text>
<text x="619.7" y="344" font-size="10" fill="#c0c0c0" text-anchor="end" textLength="12.2" lengthAdjust="spacingAndGlyphs">00</text>
<text x="606.4" y="365" font-size="12" fill="#c0c0c0" text-anchor="end">0</text>
<text x="619.7" y="363" font-size="10" fill="#c0c0c0" text-anchor="end" textLength="12.2" lengthAdjust="spacingAndGlyphs">00</text>
<text x="605.6" y="383" font-size="12" fill="#c0c0c0" text-anchor="end">-1</text>
<text x="619.7" y="381" font-size="10" fill="#c0c0c0" text-anchor="end" textLength="12.2" lengthAdjust="spacingAndGlyphs">00</text>
<text x="606" y="108" font-size="11" fill="#cc0000" text-anchor="end" stroke="#cc0000" stroke-width=".3">92</text>
<text x="616.9" y="107" font-size="9" fill="#cc0000" text-anchor="end">89</text>
<text x="581.3" y="182" font-size="11" fill="#008800" text-anchor="end" stroke="#008800" stroke-width=".3">85</text>
<text x="592.7" y="181" font-size="9" fill="#008800" text-anchor="end">97</text>
<text x="0.6" y="8" font-size="9.7" fill="#00cc00" textLength="23.2" lengthAdjust="spacingAndGlyphs">MA20</text>
<text x="40.3" y="8" font-size="9.7" fill="#c0c0c0" textLength="31.2" lengthAdjust="spacingAndGlyphs">BBands</text>
<text x="441.5" y="8" font-size="9.7" fill="#000" textLength="131.5" lengthAdjust="spacingAndGlyphs" font-style="italic">© TEC 21/12/2025 4:0 GMT</text>
<text x="2.2" y="331" font-size="9.7" fill="#000" textLength="29.4" lengthAdjust="spacingAndGlyphs">MACD</text>
<text x="42" y="438" font-size="12" fill="#000">A</text>
<text x="142.3" y="438" font-size="12" fill="#000">S</text>
<text x="246.3" y="438" font-size="12" fill="#000">O</text>
<text x="355.2" y="438" font-size="12" fill="#000">N</text>
<text x="450.2" y="438" font-size="12" fill="#000">D</text>
</svg>
</body></html>
